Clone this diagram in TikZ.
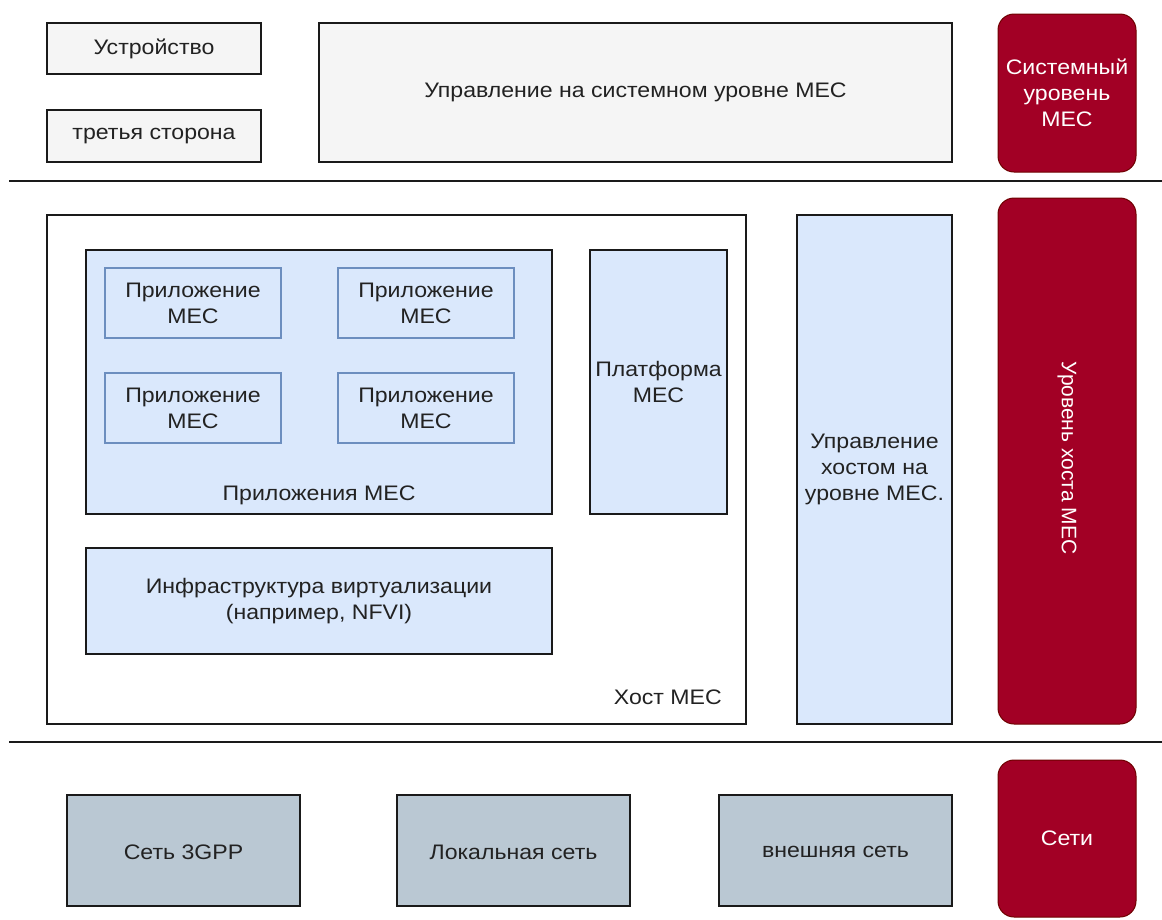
\documentclass[tikz,border=0pt]{standalone}
\usepackage{fontspec}
\setmainfont{Liberation Sans}[FakeStretch=1.1]
\newfontfamily\upright{Liberation Sans}
\begin{document}
\definecolor{txt}{HTML}{222222}
\definecolor{edge}{HTML}{1A1A1A}
\definecolor{greyfill}{HTML}{F5F5F5}
\definecolor{bluefill}{HTML}{DAE8FC}
\definecolor{blueedge}{HTML}{6C8EBF}
\definecolor{slatefill}{HTML}{BAC8D3}
\definecolor{wine}{HTML}{A20025}
\definecolor{wineedge}{HTML}{6F0000}
\begin{tikzpicture}[x=1pt,y=-1pt,
  every node/.style={font=\fontsize{21}{26}\selectfont, text=txt, align=center, inner sep=0pt},
  box/.style={draw=edge, line width=1.6pt, rectangle},
  greybox/.style={box, fill=greyfill},
  bluebox/.style={box, fill=bluefill},
  appbox/.style={draw=blueedge, line width=1.6pt, fill=bluefill},
  slatebox/.style={box, fill=slatefill},
  tier/.style={draw=wineedge, line width=1pt, fill=wine, rounded corners=16pt, text=white},
  divider/.style={draw=edge, line width=1.4pt}
]
\useasboundingbox (0,0) rectangle (1162,919);

% top tier
\draw[greybox] (47,23) rectangle (261,74);
\node (dev) at (154,48.5) {Устройство};
\draw[greybox] (47,110) rectangle (261,162);
\node (third) at (154,136) {третья сторона};
\draw[greybox] (319,23) rectangle (952,162);
\node (sysmgmt) at (635.5,92.5) {Управление на системном уровне MEC};
\draw[tier] (998,14) rectangle (1136,172);
\node[text=white] (systier) at (1067,93) {Системный\\уровень\\MEC};

\coordinate (d1a) at (9,181);
\coordinate (d1b) at (1162,181);
\draw[divider] (d1a) -- (d1b);

% host tier
\draw[box, fill=white] (47,215) rectangle (746,724);
\node[anchor=east] (host) at (722,697) {Хост MEC};

\draw[bluebox] (86,250) rectangle (552,514);
\node (apps) at (319,495) {Приложения MEC};
\draw[appbox] (105,268) rectangle (281,338);
\node (app1) at (193,303) {Приложение\\MEC};
\draw[appbox] (338,268) rectangle (514,338);
\node (app2) at (426,303) {Приложение\\MEC};
\draw[appbox] (105,373) rectangle (281,443);
\node (app3) at (193,408) {Приложение\\MEC};
\draw[appbox] (338,373) rectangle (514,443);
\node (app4) at (426,408) {Приложение\\MEC};

\draw[bluebox] (590,250) rectangle (727,514);
\node (plat) at (658.5,382) {Платформа\\MEC};

\draw[bluebox] (86,548) rectangle (552,654);
\node (nfvi) at (319,601) {Инфраструктура виртуализации\\(например, NFVI)};

\draw[bluebox] (797,215) rectangle (952,724);
\node (hostmgmt) at (874.5,469) {Управление\\хостом на\\уровне MEC.};

\draw[tier] (998,198) rectangle (1136,724);
\node[text=white, rotate=-90, font=\upright\fontsize{21}{26}\selectfont] (hosttier) at (1067,458) {Уровень хоста MEC};

\coordinate (d2a) at (9,742);
\coordinate (d2b) at (1162,742);
\draw[divider] (d2a) -- (d2b);

% network tier
\draw[slatebox] (67,795) rectangle (300,906);
\node (net3gpp) at (183.5,852) {Сеть 3GPP};
\draw[slatebox] (397,795) rectangle (630,906);
\node (netlocal) at (513.5,852) {Локальная сеть};
\draw[slatebox] (719,795) rectangle (952,906);
\node (netext) at (835.5,852) {внешняя сеть};
\draw[tier] (998,760) rectangle (1136,917);
\node[text=white] (nettier) at (1067,838) {Сети};
\end{tikzpicture}
\end{document}
